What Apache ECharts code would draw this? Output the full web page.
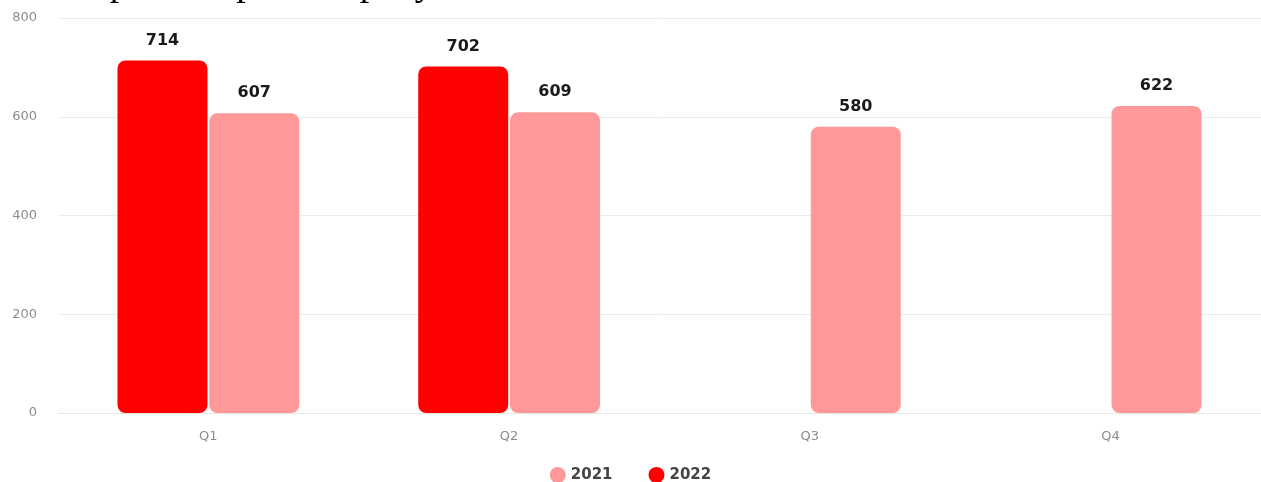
<!DOCTYPE html>
<html>
<head>
<meta charset="utf-8">
<style>
  html, body { margin: 0; padding: 0; background: #ffffff; }
  #chart { width: 1261px; height: 482px; }
</style>
<script src="https://cdn.jsdelivr.net/npm/echarts@6/dist/echarts.min.js"></script>
</head>
<body>
<div id="chart"></div>
<script>
// Quarterly figures per year
const quarters = ['Q1', 'Q2', 'Q3', 'Q4'];
const values2021 = [607, 609, 580, 622];
const values2022 = [714, 702, null, null];
const yTicks = [0, 200, 400, 600, 800];
const legendNames = ['2021', '2022'];
const captionText = 'Sales per unit per company';

const chart = echarts.init(document.getElementById('chart'), null, { renderer: 'canvas' });

const valueLabel = {
  show: true,
  position: 'top',
  distance: 12,
  color: '#1a1a1a',
  fontSize: 16,
  fontWeight: 'bold',
  fontFamily: 'DejaVu Sans'
};

chart.setOption({
  animation: false,
  backgroundColor: '#ffffff',
  graphic: [{
    type: 'text',
    left: 20,
    top: -34,
    silent: true,
    style: {
      text: captionText,
      font: '38px "Liberation Serif"',
      fill: '#000000'
    }
  }],
  legend: {
    data: legendNames,
    top: 462,
    left: 'center',
    icon: 'circle',
    itemWidth: 16,
    itemHeight: 16,
    itemGap: 36,
    textStyle: { color: '#444444', fontSize: 15, fontWeight: 'bold', fontFamily: 'DejaVu Sans' }
  },
  grid: { left: 58, right: 0, top: 18, bottom: 69 },
  xAxis: {
    type: 'category',
    data: quarters,
    axisTick: { show: false },
    axisLine: { lineStyle: { color: '#e6e6e6' } },
    axisLabel: { color: '#8c8c8c', fontSize: 13, margin: 17, fontFamily: 'DejaVu Sans' }
  },
  yAxis: {
    type: 'value',
    min: yTicks[0],
    max: yTicks[yTicks.length - 1],
    interval: yTicks[1] - yTicks[0],
    axisLine: { show: false },
    axisTick: { show: false },
    splitLine: { lineStyle: { color: '#ececec' } },
    axisLabel: { color: '#8c8c8c', fontSize: 13, margin: 21, fontFamily: 'DejaVu Sans' }
  },
  series: [
    {
      name: '2022',
      type: 'bar',
      data: values2022,
      barWidth: 90,
      barGap: '2%',
      itemStyle: { color: '#ff0000', borderRadius: 8 },
      label: valueLabel
    },
    {
      name: '2021',
      type: 'bar',
      data: values2021,
      barWidth: 90,
      itemStyle: { color: '#ff9999', borderRadius: 8 },
      label: valueLabel
    }
  ]
});
</script>
</body>
</html>
